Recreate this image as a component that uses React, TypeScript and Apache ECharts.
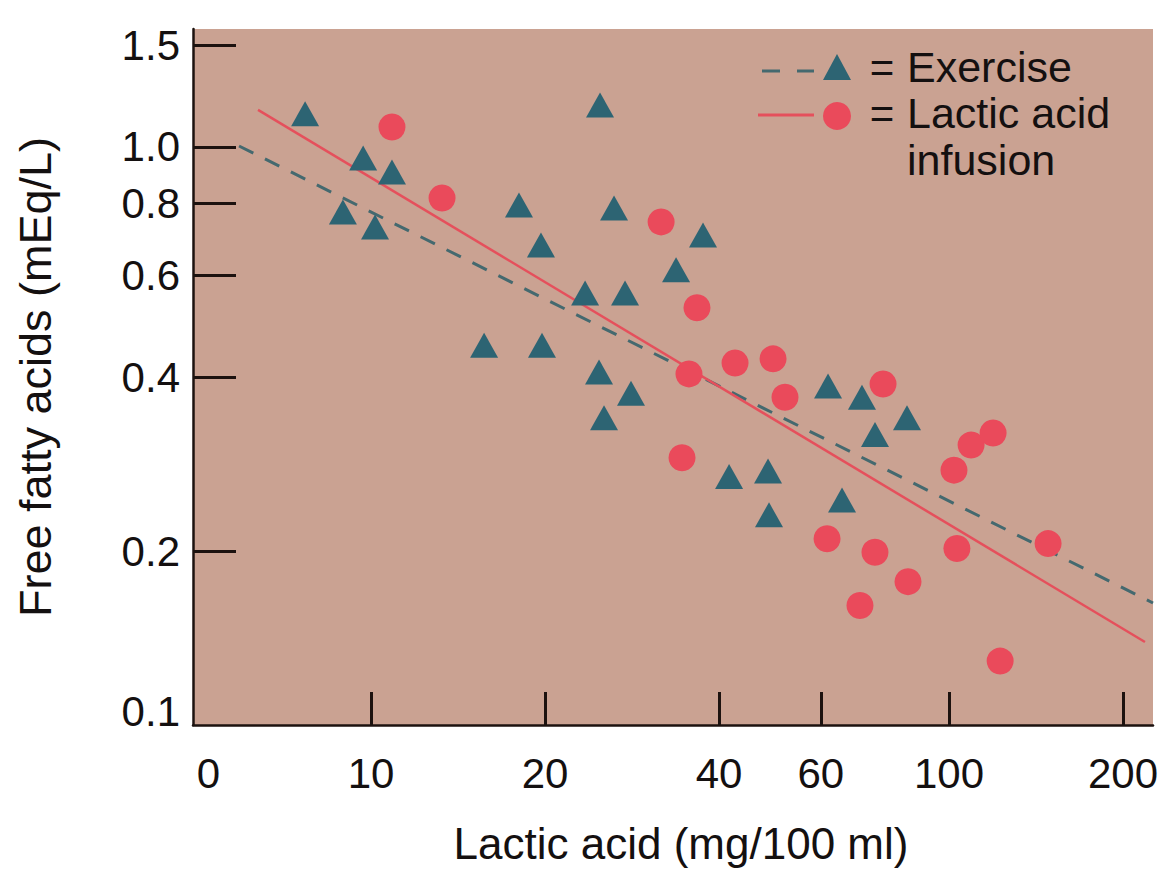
import React, { useEffect, useRef } from 'react';
import * as echarts from 'echarts';

// Axis tick labels
const xTickValues = [4.93, 10, 20, 40, 60, 100, 200];
const xTickLabels = ['0', '10', '20', '40', '60', '100', '200'];
const xTickMarks = [10, 20, 40, 60, 100, 200];
const yTickValues = [0.1001, 0.2, 0.4, 0.6, 0.8, 1.0, 1.5];
const yTickLabels = ['0.1', '0.2', '0.4', '0.6', '0.8', '1.0', '1.5'];
const yTickMarks = [0.2, 0.4, 0.6, 0.8, 1.0, 1.5];

// Exercise: [lactic acid mg/100 ml, free fatty acids mEq/L]
const exercisePoints: number[][] = [
  [7.69, 1.141], [9.69, 0.957], [10.87, 0.905], [8.94, 0.772], [10.16, 0.727],
  [18.03, 0.794], [19.68, 0.677], [15.69, 0.454], [19.76, 0.454], [23.46, 0.559],
  [27.51, 0.559], [24.9, 1.182], [26.33, 0.784], [24.8, 0.408], [28.17, 0.375],
  [25.3, 0.34], [33.71, 0.613], [37.53, 0.704], [41.64, 0.269], [48.63, 0.275],
  [48.82, 0.231], [65.3, 0.245], [61.76, 0.386], [70.7, 0.369], [74.46, 0.318],
  [84.59, 0.34],
];

// Lactic acid infusion
const infusionPoints: number[][] = [
  [10.87, 1.083], [13.27, 0.816], [31.76, 0.742], [36.64, 0.527], [35.49, 0.405],
  [34.52, 0.29], [42.64, 0.423], [49.61, 0.43], [52.03, 0.369], [76.89, 0.389],
  [61.52, 0.21], [74.46, 0.199], [70.14, 0.161], [84.93, 0.177], [102.0, 0.276],
  [109.2, 0.305], [119.2, 0.32], [103.2, 0.202], [148.4, 0.206], [122.6, 0.129],
];

// Regression lines (end points)
const exerciseFit: number[][] = [[5.91, 1.004], [225.4, 0.1626]];
const infusionFit: number[][] = [[6.375, 1.159], [218.3, 0.1392]];

const X_MIN = 4.92;
const X_MAX = 225.4;
const Y_MIN = 0.1;
const Y_MAX = 1.6;

const FONT = 'Liberation Sans, Arial, Helvetica, sans-serif';
const TEXT = '#141010';
const AXIS = '#1c120f';
const BG = '#caa292';
const TEAL = '#2d6473';
const RED = '#ea4a5b';

function nearestIndex(vals: number[], v: number) {
  let best = 0;
  let bd = Infinity;
  vals.forEach((t, i) => {
    const d = Math.abs(Math.log(t) - Math.log(v));
    if (d < bd) { bd = d; best = i; }
  });
  return best;
}

export default function App() {
  const ref = useRef<HTMLDivElement>(null);
  useEffect(() => {
    if (!ref.current) return;
    const chart = echarts.init(ref.current, undefined, { renderer: 'svg' });
    const option: any = {
      animation: false,
      backgroundColor: '#ffffff',
      textStyle: { fontFamily: FONT },
      grid: {
        left: 193, right: 12, top: 29, bottom: 147,
        show: true, backgroundColor: BG, borderWidth: 0,
        containLabel: false, outerBoundsMode: 'none',
      },
      xAxis: {
        type: 'log', logBase: 10, min: X_MIN, max: X_MAX,
        name: 'Lactic acid (mg/100 ml)', nameLocation: 'middle', nameGap: 96,
        nameTextStyle: { fontSize: 44, color: TEXT, fontFamily: FONT, padding: [0, 0, 0, 16] },
        axisLine: { show: true, lineStyle: { color: AXIS, width: 2.5 } },
        axisTick: { show: true, inside: true, length: 33, customValues: xTickMarks, lineStyle: { color: AXIS, width: 3 } },
        minorTick: { show: false },
        splitLine: { show: false },
        axisLabel: {
          customValues: xTickValues, margin: 27, fontSize: 42, color: TEXT, fontFamily: FONT,
          formatter: (v: number) => {
            const i = nearestIndex(xTickValues, v);
            return i === 0 ? '{z|' + xTickLabels[0] + '}' : xTickLabels[i];
          },
          rich: { z: { fontSize: 42, color: TEXT, fontFamily: FONT, padding: [0, 0, 0, 30] } },
        },
      },
      yAxis: {
        type: 'log', logBase: 10, min: Y_MIN, max: Y_MAX,
        name: 'Free fatty acids (mEq/L)', nameLocation: 'middle', nameGap: 135,
        nameTextStyle: { fontSize: 45, color: TEXT, fontFamily: FONT },
        axisLine: { show: true, lineStyle: { color: AXIS, width: 2.5 } },
        axisTick: { show: true, inside: true, length: 43, customValues: yTickMarks, lineStyle: { color: AXIS, width: 3 } },
        minorTick: { show: false },
        splitLine: { show: false },
        axisLabel: {
          customValues: yTickValues, margin: 13, fontSize: 42, color: TEXT, fontFamily: FONT,
          formatter: (v: number) => {
            const i = nearestIndex(yTickValues, v);
            return i === 0 ? '{z|' + yTickLabels[0] + '}' : yTickLabels[i];
          },
          rich: { z: { fontSize: 42, color: TEXT, fontFamily: FONT, padding: [0, 0, 26, 0] } },
        },
      },
      series: [
        {
          name: 'Exercise fit', type: 'line', data: exerciseFit, symbol: 'none', z: 1,
          lineStyle: { color: '#44696f', width: 3, type: [16, 13] }, silent: true,
        },
        {
          name: 'Lactic acid infusion fit', type: 'line', data: infusionFit, symbol: 'none', z: 1,
          lineStyle: { color: '#e5505c', width: 2.5 }, silent: true,
        },
        {
          name: 'Exercise', type: 'scatter', data: exercisePoints, symbol: 'triangle',
          symbolSize: [28, 25], itemStyle: { color: TEAL, opacity: 1 }, z: 3,
        },
        {
          name: 'Lactic acid infusion', type: 'scatter', data: infusionPoints, symbol: 'circle',
          symbolSize: 27, itemStyle: { color: RED, opacity: 1 }, z: 3,
        },
      ],
      graphic: [
        { type: 'line', shape: { x1: 762, y1: 71, x2: 814, y2: 71 }, style: { stroke: '#44696f', lineWidth: 3, lineDash: [18, 17] }, z: 10 },
        { type: 'polygon', shape: { points: [[837, 54], [851, 80], [823, 80]] }, style: { fill: TEAL }, z: 10 },
        { type: 'text', x: 882, y: 67, style: { text: '=', fontSize: 42, fontFamily: FONT, fill: TEXT, align: 'center', verticalAlign: 'middle' }, z: 10 },
        { type: 'text', x: 907, y: 67, style: { text: 'Exercise', fontSize: 43, fontFamily: FONT, fill: TEXT, align: 'left', verticalAlign: 'middle' }, z: 10 },
        { type: 'line', shape: { x1: 758, y1: 115, x2: 814, y2: 115 }, style: { stroke: '#e5505c', lineWidth: 3 }, z: 10 },
        { type: 'circle', shape: { cx: 837, cy: 116, r: 14 }, style: { fill: RED }, z: 10 },
        { type: 'text', x: 882, y: 113, style: { text: '=', fontSize: 42, fontFamily: FONT, fill: TEXT, align: 'center', verticalAlign: 'middle' }, z: 10 },
        { type: 'text', x: 907, y: 113, style: { text: 'Lactic acid', fontSize: 43, fontFamily: FONT, fill: TEXT, align: 'left', verticalAlign: 'middle' }, z: 10 },
        { type: 'text', x: 907, y: 160, style: { text: 'infusion', fontSize: 43, fontFamily: FONT, fill: TEXT, align: 'left', verticalAlign: 'middle' }, z: 10 },
      ],
    };
    chart.setOption(option);
    return () => { chart.dispose(); };
  }, []);
  return (
    <div
      ref={ref}
      style={{ position: 'fixed', left: 0, top: 0, width: 1165, height: 872, background: '#fff' }}
    />
  );
}
